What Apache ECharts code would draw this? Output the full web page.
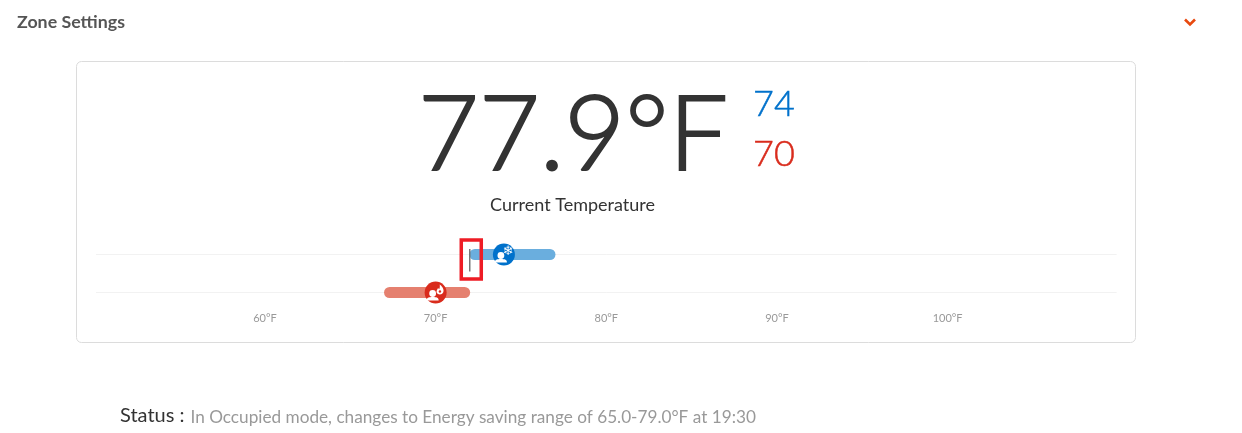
<!DOCTYPE html>
<html><head><meta charset="utf-8">
<style>html,body{margin:0;padding:0;background:#fff}#c{width:1242px;height:433px}</style>
<script src="https://cdn.jsdelivr.net/npm/echarts@6/dist/echarts.min.js"></script>
</head><body><div id="c"></div>
<script>
const zones = ['Heat', 'Cool'];
const tickLabels = [60, 70, 80, 90, 100];
const coolRange = [72.3, 76.7];
const heatRange = [67.3, 71.7];
const coolSetpoint = 74;
const heatSetpoint = 70;
const currentMarker = 72;
const trackExtent = [50.1, 109.9];
const titleText = 'Zone Settings';
const currentText = '77.9°F';
const currentCaption = 'Current Temperature';
const statusLabel = 'Status :';
const statusText = 'In Occupied mode, changes to Energy saving range of 65.0-79.0°F at 19:30';

const BLUE = '#0071cb', RED = '#d92b1c';
const FONT = 'Lato, "Noto Sans", sans-serif';

function rangeSeries(range, zone, color) {
  return {
    type: 'line', silent: true, showSymbol: false, z: 3,
    data: range.map(v => [v, zone]),
    lineStyle: { width: 11, color: color, cap: 'round' }
  };
}
function trackSeries(zone) {
  return {
    type: 'line', silent: true, showSymbol: false, z: 1,
    data: trackExtent.map(v => [v, zone]),
    lineStyle: { width: 1, color: '#f2f2f2' }
  };
}
function iconSeries(value, zone, color, kind) {
  return {
    type: 'custom', silent: true, z: 5,
    data: [[value, zone]],
    renderItem: function (params, api) {
      const p = api.coord([api.value(0), zone]);
      const children = [
        { type: 'circle', shape: { cx: 0, cy: 0, r: 11 }, style: { fill: color } },
        { type: 'circle', shape: { cx: -3, cy: 1, r: 3.4 }, style: { fill: '#fff' } },
        { type: 'path', shape: { pathData: 'M-9 8 C-9 5 -7 4.5 -3 4.5 C1 4.5 3 5 3 8 Z' }, style: { fill: '#fff' } }
      ];
      if (kind === 'cool') {
        children.push({ type: 'text', style: { x: 4, y: -2.5, text: '\u2744', fill: '#fff', font: 'bold 13px "DejaVu Sans"', align: 'center', verticalAlign: 'middle' } });
      } else {
        children.push({ type: 'path', shape: { pathData: 'M4 -8 C8 -5 8.5 -2 7.5 0 C6.5 2.5 2 2.5 1 0 C0.5 -2 2 -3.5 2.5 -4.5 C3 -4 3.2 -3.5 3.5 -3.2 C4.2 -4.5 4.4 -6.5 4 -8 Z' }, style: { fill: '#fff' } });
        children.push({ type: 'circle', shape: { cx: 4.3, cy: -1, r: 1.2 }, style: { fill: color } });
      }
      return { type: 'group', x: p[0], y: p[1], children: children };
    }
  };
}
const markerSeries = {
  type: 'custom', silent: true, z: 6,
  data: [[currentMarker, zones[1]]],
  renderItem: function (params, api) {
    const p = api.coord([api.value(0), zones[1]]);
    return { type: 'group', x: p[0], y: p[1], children: [
      { type: 'line', shape: { x1: 0, y1: -5.5, x2: 0, y2: 17 }, style: { stroke: '#6f6f6f', lineWidth: 1.4 } },
      { type: 'rect', shape: { x: -8.5, y: -14.5, width: 20, height: 39 }, style: { fill: 'none', stroke: '#ee1c25', lineWidth: 3.5 } }
    ] };
  }
};

const chart = echarts.init(document.getElementById('c'), null, { renderer: 'canvas' });
chart.setOption({
  animation: false,
  backgroundColor: '#fff',
  grid: { left: 94.3, width: 1024, top: 254.5, height: 38, containLabel: false },
  xAxis: {
    type: 'value', min: 50, max: 110, interval: 10,
    axisLine: { show: false }, axisTick: { show: false }, splitLine: { show: false },
    showMinLabel: false, showMaxLabel: false,
    axisLabel: {
      margin: 20, fontSize: 11, color: '#999', fontFamily: FONT,
      formatter: v => tickLabels.includes(v) ? v + '°F' : ''
    }
  },
  yAxis: {
    type: 'category', data: zones, boundaryGap: false,
    axisLine: { show: false }, axisTick: { show: false }, axisLabel: { show: false }, splitLine: { show: false }
  },
  graphic: [
    { type: 'rect', shape: { x: 76.5, y: 61.5, width: 1059, height: 281, r: 5 }, style: { fill: 'none', stroke: '#dcdcdc', lineWidth: 1 } },
    { type: 'text', x: 17, y: 22, style: { text: titleText, font: 'bold 17.8px ' + FONT, fill: '#555', verticalAlign: 'middle' } },
    { type: 'polyline', shape: { points: [[1185, 19.5], [1190, 24.5], [1195, 19.5]] }, style: { stroke: '#e8490f', lineWidth: 2.6, fill: 'none' } },
    { type: 'text', x: 573, y: 136.5, style: { text: currentText, font: '300 105px ' + FONT, fill: '#333', stroke: '#333', lineWidth: 2, align: 'center', verticalAlign: 'middle' } },
    { type: 'text', x: 753, y: 104, style: { text: String(coolSetpoint), font: '300 36px ' + FONT, fill: BLUE, stroke: BLUE, lineWidth: 0.5, verticalAlign: 'middle' } },
    { type: 'text', x: 753, y: 154, style: { text: String(heatSetpoint), font: '300 36px ' + FONT, fill: RED, stroke: RED, lineWidth: 0.5, verticalAlign: 'middle' } },
    { type: 'text', x: 572.5, y: 205, style: { text: currentCaption, font: '18px ' + FONT, fill: '#333', align: 'center', verticalAlign: 'middle' } },
    { type: 'text', x: 120, y: 416, style: { text: statusLabel, font: '20px ' + FONT, fill: '#333', verticalAlign: 'middle' } },
    { type: 'text', x: 190.5, y: 417, style: { text: statusText, font: '17.2px ' + FONT, fill: '#999', verticalAlign: 'middle' } }
  ],
  series: [
    trackSeries(zones[1]), trackSeries(zones[0]),
    rangeSeries(coolRange, zones[1], '#6aaede'),
    rangeSeries(heatRange, zones[0], '#e5806f'),
    iconSeries(coolSetpoint, zones[1], BLUE, 'cool'),
    iconSeries(heatSetpoint, zones[0], RED, 'heat'),
    markerSeries
  ]
});
</script></body></html>
